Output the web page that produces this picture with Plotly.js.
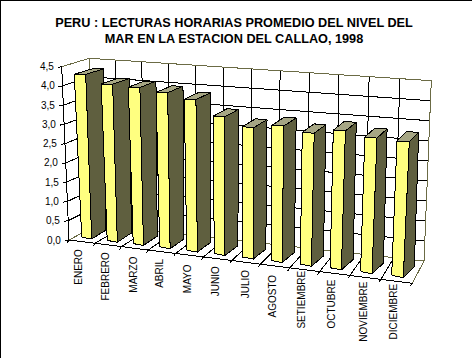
<!DOCTYPE html>
<html><head><meta charset="utf-8">
<script src="https://cdn.plot.ly/plotly-3.0.1.min.js"></script>
<style>html,body{margin:0;padding:0;background:#fff}#c{width:472px;height:358px}#c path{shape-rendering:crispEdges}</style>
</head><body><div id="c"></div>
<script>
const months = ["ENERO","FEBRERO","MARZO","ABRIL","MAYO","JUNIO","JULIO","AGOSTO","SETIEMBRE","OCTUBRE","NOVIEMBRE","DICIEMBRE"];
const levels = [4.24,4.06,4.05,3.99,3.89,3.53,3.34,3.46,3.36,3.5,3.41,3.4];
const yTicks = ["0,0","0,5","1,0","1,5","2,0","2,5","3,0","3,5","4,0","4,5"];
const titleText = "PERU : LECTURAS HORARIAS PROMEDIO DEL NIVEL DEL<br>MAR EN LA ESTACION DEL CALLAO, 1998";

// ---- oblique perspective projection of the 3-D chart box ----
const yMax = 4.5, persp = 1.11, nCat = months.length;
const lerp=(a,b,t)=>a+(b-a)*t;
const L2=(a,b,t)=>[lerp(a[0],b[0],t),lerp(a[1],b[1],t)];
const warp=(t,k)=>t/(t+k*(1-t));
const box={A:[69,240],B:[412.3,283.3],C:[97,225],D:[424,261],E:[61.7,66.7],F:[404.5,99],G:[89.3,58.3],H:[431.3,80.7]};
function wall(u,v,d){ // u: category units, v: value, d: depth 0..1
  const t=warp(u/nCat,persp), h=v/yMax;
  const floor=L2(L2(box.A,box.B,t),L2(box.C,box.D,t),d);
  const top=L2(L2(box.E,box.F,t),L2(box.G,box.H,t),d);
  return L2(floor,top,h);
}
function bar(i,a,v,b){ // a: width 0..1, v: value, b: depth 0..1
  const t=warp(i/(nCat-1),1.115);
  const base=L2([81.7,237.3],[391.7,275.3],t);
  const up=L2([-1.745,-38.44],[1.56,-39.5],t);
  const W=[lerp(10,11.6,t)+v*lerp(.33,.2,t), lerp(1.7,2.3,t)+v*-.39];
  const D=[lerp(14.3,11,t)+v*lerp(.78,-.47,t), lerp(-9,-10.7,t)+v*lerp(.85,.35,t)];
  return [base[0]+up[0]*v+a*W[0]+b*D[0], base[1]+up[1]*v+a*W[1]+b*D[1]];
}
const traces=[];
function seg(pts,color,w){traces.push({x:pts.map(p=>p?p[0]:null),y:pts.map(p=>p?p[1]:null),mode:'lines',line:{color:color,width:w||1},hoverinfo:'skip',showlegend:false,connectgaps:false});}
function face(pts,fill){const c=pts.concat([pts[0]]);traces.push({x:c.map(p=>p[0]),y:c.map(p=>p[1]),mode:'lines',fill:'toself',fillcolor:fill,line:{color:'#000',width:1},hoverinfo:'skip',showlegend:false});}

const OLIVE='#6b6b45';
// gridlines
const grid=[];
yTicks.forEach((_,k)=>{const v=k*.5; if(k>0&&k<yTicks.length-1){grid.push(wall(0,v,1),wall(nCat,v,1),null,wall(0,v,0),wall(0,v,1),null);}});
for(let c=0;c<=nCat;c++){ if(c>0&&c<nCat) grid.push(wall(c,0,1),wall(c,yMax,1),null); if(c>0) grid.push(wall(c,0,0),wall(c,0,1),null);}
seg(grid,'#000');
// olive frame
seg([wall(0,yMax,0),wall(0,yMax,1),wall(nCat,yMax,1),wall(nCat,0,1),wall(nCat,0,0),null,wall(0,0,0),wall(0,0,1),wall(nCat,0,1),null,wall(0,0,1),wall(0,yMax,1)],OLIVE);
// axes with ticks
const ax=[wall(0,yMax,0),wall(0,0,0),wall(nCat,0,0),null];
yTicks.forEach((_,k)=>{const p=wall(0,k*.5,0);ax.push(p,[p[0]-4,p[1]+.6],null);});
for(let c=0;c<=nCat;c++){const p=wall(c,0,0);ax.push(p,[p[0]-2,p[1]+3],null);}
seg(ax,'#000');
// bars
levels.forEach((v,i)=>{
  face([bar(i,1,0,0),bar(i,1,v,0),bar(i,1,v,1),bar(i,1,0,1)],'#5f5f3f');
  face([bar(i,0,v,0),bar(i,1,v,0),bar(i,1,v,1),bar(i,0,v,1)],'#a6a684');
  face([bar(i,0,0,0),bar(i,1,0,0),bar(i,1,v,0),bar(i,0,v,0)],'#ffff80');
});
const labelX=[79,105,132.7,160,187,215,245,272.7,301.3,331.7,362.7,393.7];
const labelTop=[246.7,250,255,257.3,262.7,264.3,267.7,272.3,268.3,277.3,280,281.7];
const font={family:'"Liberation Sans",Arial,sans-serif',size:10,color:'#000'};
const ann=[];
yTicks.forEach((s,k)=>{const p=wall(0,k*.5,0);ann.push({x:p[0]-6,y:p[1],xref:'x',yref:'y',text:s,showarrow:false,xanchor:'right',yanchor:'middle',font:font});});
months.forEach((m,i)=>{ann.push({x:labelX[i],y:labelTop[i],xref:'x',yref:'y',text:m,showarrow:false,textangle:-90,xanchor:'center',yanchor:'top',font:font});});
Plotly.newPlot('c',traces,{
  width:472,height:358,margin:{l:0,r:0,t:0,b:0},paper_bgcolor:'#fff',plot_bgcolor:'#fff',
  showlegend:false,
  title:{text:titleText,x:234/472,xanchor:'center',y:1-26.5/358,yanchor:'middle',font:{family:'"Liberation Sans",Arial,sans-serif',size:12.7,color:'#000',weight:'bold'}},
  xaxis:{range:[0,472],visible:false,fixedrange:true},
  yaxis:{range:[358,0],visible:false,fixedrange:true},
  annotations:ann,
  shapes:[{type:'line',xref:'x',yref:'y',x0:0,x1:472,y0:0.5,y1:0.5,line:{color:'#000',width:1}},
          {type:'line',xref:'x',yref:'y',x0:0.5,x1:0.5,y0:0,y1:358,line:{color:'#000',width:1}}]
},{displayModeBar:false,staticPlot:true});
</script></body></html>
